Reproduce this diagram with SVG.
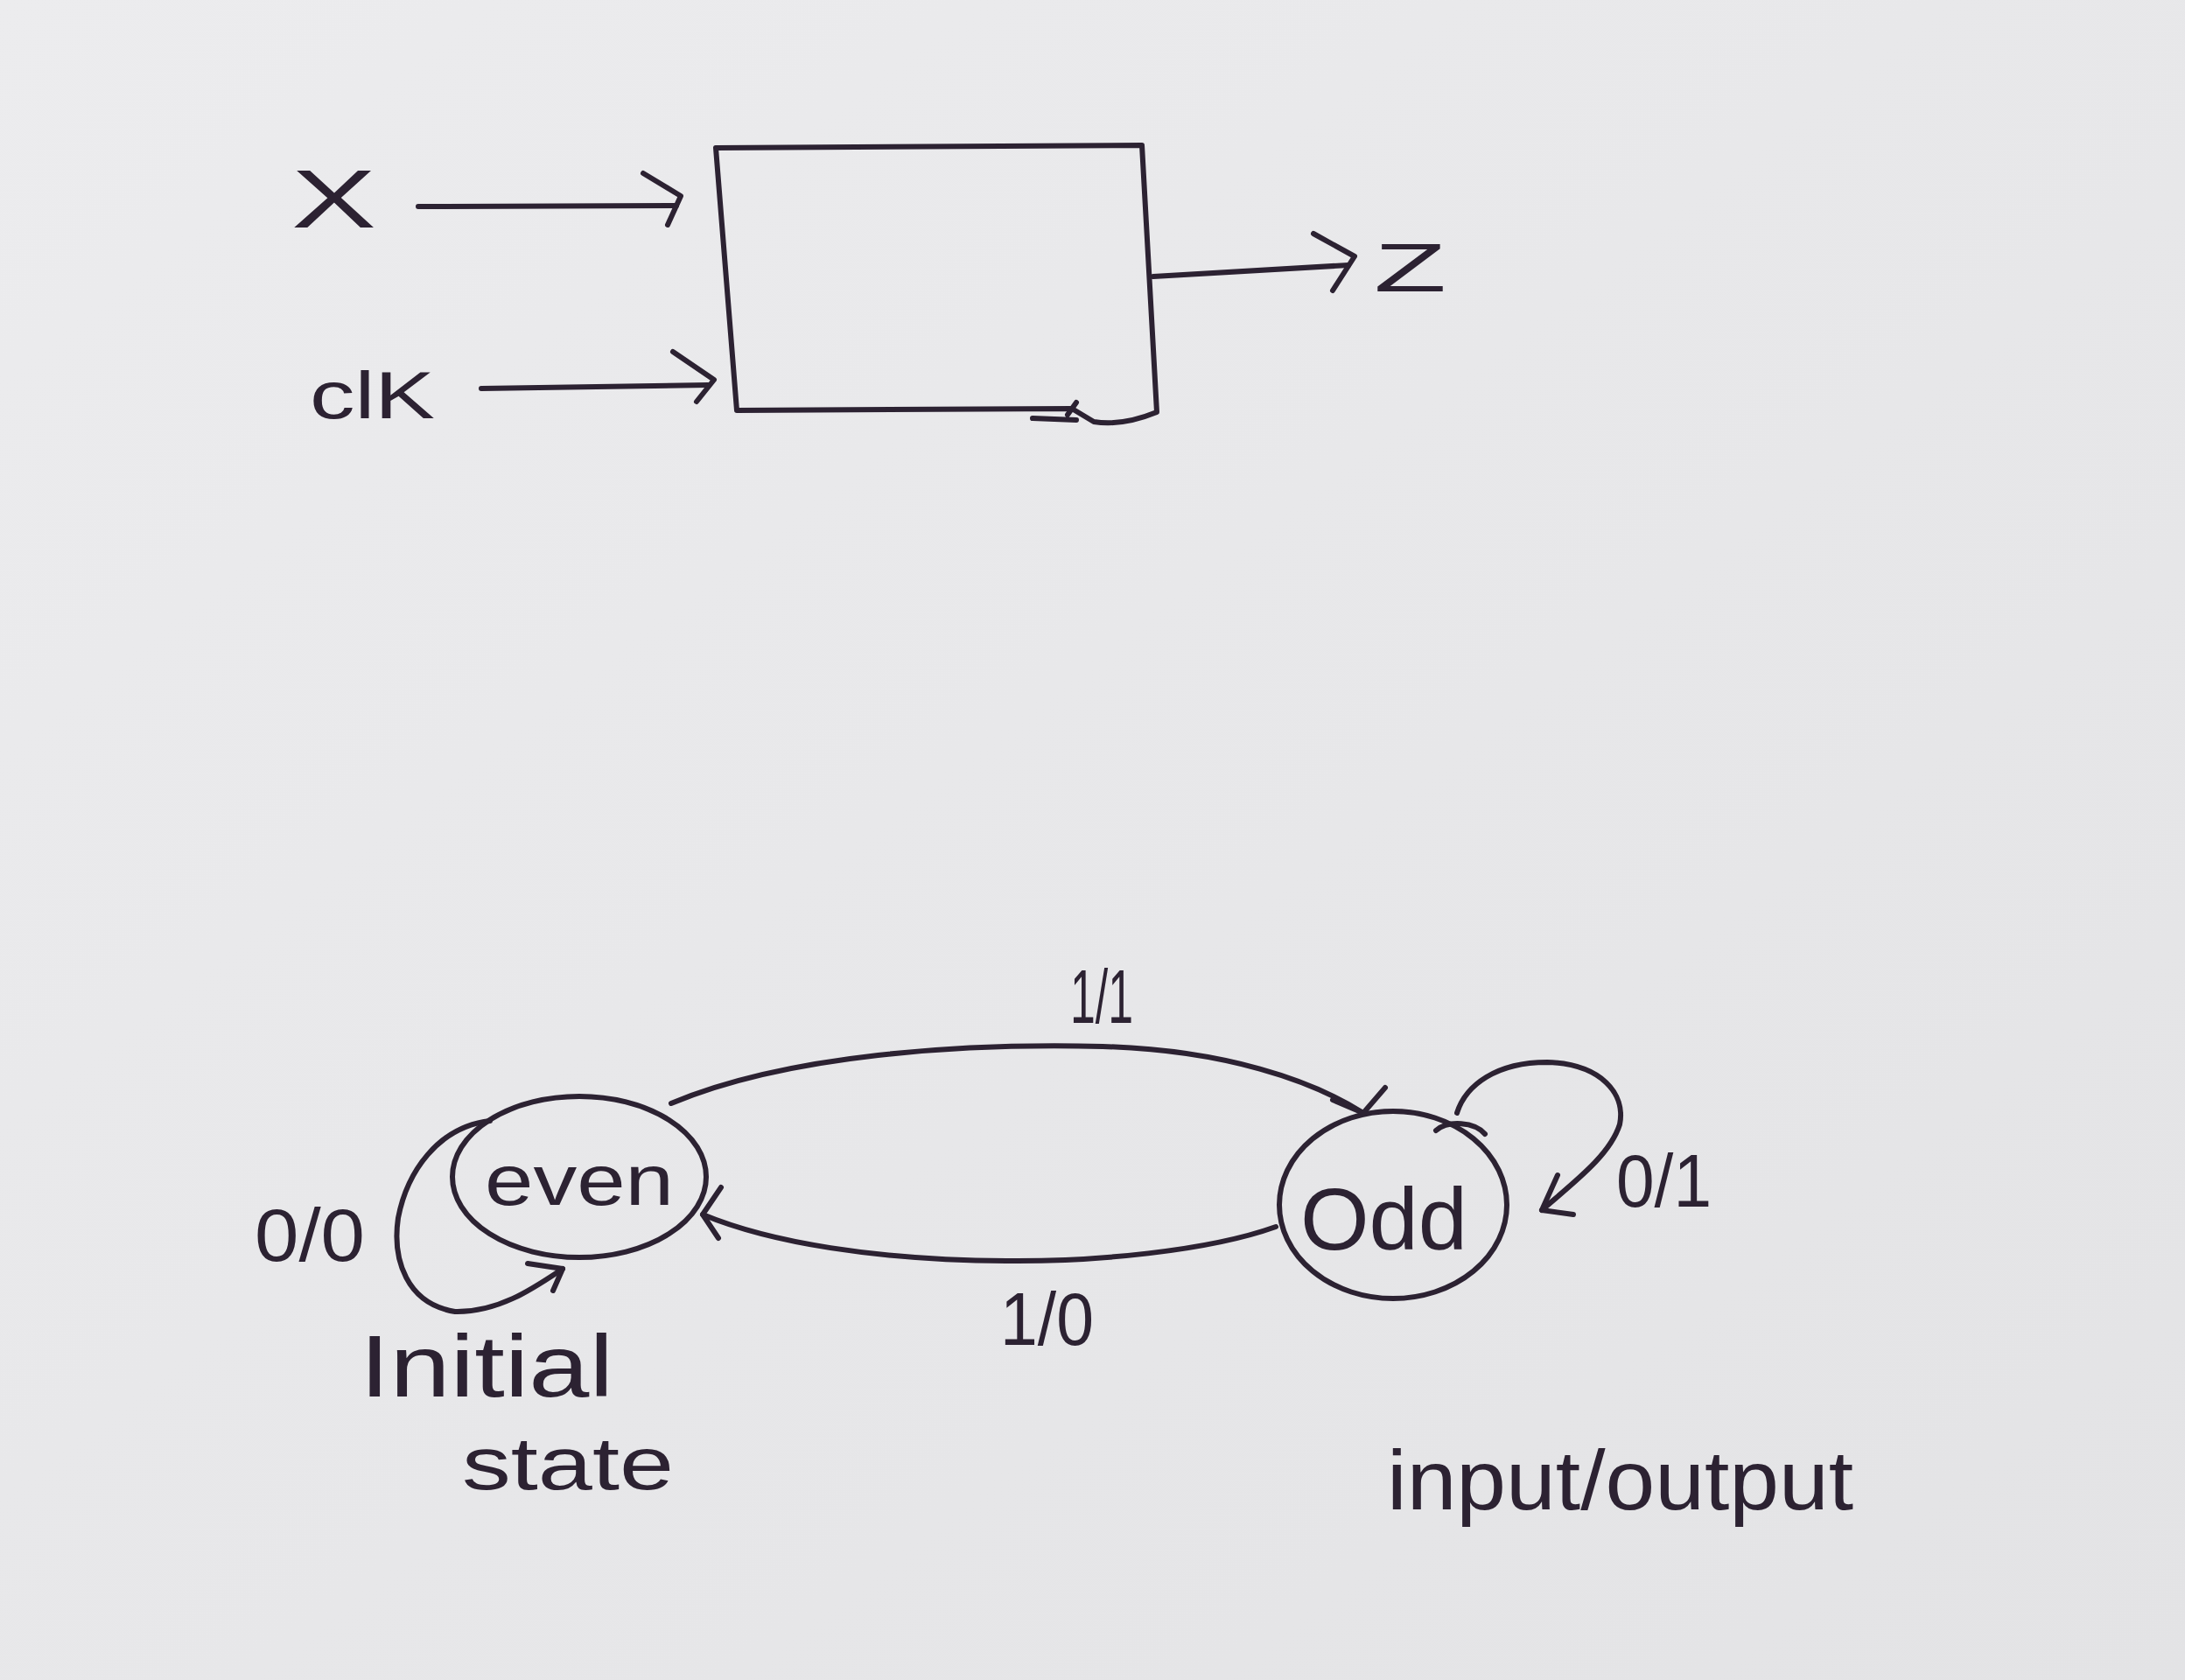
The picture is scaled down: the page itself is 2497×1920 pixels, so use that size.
<svg xmlns="http://www.w3.org/2000/svg" width="2497" height="1920" viewBox="0 0 2497 1920">
<defs>
<linearGradient id="bg" x1="0" y1="0" x2="1" y2="1">
<stop offset="0" stop-color="#ececee"/>
<stop offset="1" stop-color="#e3e3e5"/>
</linearGradient>
<style>
.ink{fill:none;stroke:#2c2232;stroke-width:6;stroke-linecap:round;stroke-linejoin:round}
.t{fill:#2c2232;font-family:"Liberation Sans","DejaVu Sans",sans-serif}
</style>
</defs>
<rect width="2497" height="1920" fill="url(#bg)"/>

<g id="block">
<path class="ink" d="M818,169 L1305,166 L1322,471 C1300,480 1275,486 1250,482 L1225,467 L842,469 Z"/>
<path class="ink" d="M1230,460 L1220,474 M1180,478 L1230,480"/>
</g>
<g id="label-x"><text class="t" x="333" y="260" font-size="95" textLength="97" lengthAdjust="spacingAndGlyphs">X</text></g>
<g id="label-clk"><text class="t" x="354" y="478" font-size="76" textLength="143" lengthAdjust="spacingAndGlyphs">clK</text></g>
<g id="label-z"><text class="t" x="1570" y="333" font-size="78" textLength="83" lengthAdjust="spacingAndGlyphs">Z</text></g>

<g id="even">
<ellipse class="ink" cx="662" cy="1345" rx="145" ry="92"/>
<text class="t" x="554" y="1377" font-size="82" textLength="216" lengthAdjust="spacingAndGlyphs">even</text>
</g>
<g id="odd">
<ellipse class="ink" cx="1592" cy="1377" rx="130" ry="107"/>
<path class="ink" d="M1641,1292 C1655,1280 1685,1282 1697,1296"/>
<text class="t" x="1486" y="1428" font-size="100" textLength="191" lengthAdjust="spacingAndGlyphs">Odd</text>
</g>

<g id="connectors">
<path class="ink" d="M478,236 L773,235"/>
<path class="ink" d="M735,198 L778,224 L763,257"/>
<path class="ink" d="M550,444 L809,440"/>
<path class="ink" d="M769,402 L816,434 L796,459"/>
<path class="ink" d="M1318,316 L1541,303"/>
<path class="ink" d="M1501,267 L1548,293 L1523,332"/>

<path class="ink" d="M767,1261 C900,1205 1100,1192 1260,1196 C1400,1200 1500,1235 1558,1272"/>
<path class="ink" d="M1523,1257 L1558,1272 L1583,1243"/>

<path class="ink" d="M1458,1402 C1380,1430 1250,1442 1150,1441 C1000,1440 880,1420 803,1388"/>
<path class="ink" d="M824,1357 L803,1388 L821,1415"/>

<path class="ink" d="M560,1281 C500,1288 465,1340 455,1392 C448,1440 465,1490 520,1499 C570,1500 610,1472 643,1450"/>
<path class="ink" d="M603,1444 L643,1450 L632,1475"/>

<path class="ink" d="M1665,1272 C1675,1240 1710,1214 1768,1214 C1830,1216 1858,1250 1851,1285 C1840,1320 1800,1350 1762,1383"/>
<path class="ink" d="M1780,1343 L1762,1383 L1798,1388"/>
</g>

<g id="labels">
<text class="t" x="1223" y="1169" font-size="88" textLength="72" lengthAdjust="spacingAndGlyphs">1/1</text>
<text class="t" x="1143" y="1537" font-size="86" textLength="107" lengthAdjust="spacingAndGlyphs">1/0</text>
<text class="t" x="291" y="1441" font-size="86" textLength="126" lengthAdjust="spacingAndGlyphs">0/0</text>
<text class="t" x="1847" y="1379" font-size="86" textLength="109" lengthAdjust="spacingAndGlyphs">0/1</text>
<text class="t" x="411" y="1596" font-size="100" textLength="290" lengthAdjust="spacingAndGlyphs">Initial</text>
<text class="t" x="528" y="1702" font-size="86" textLength="242" lengthAdjust="spacingAndGlyphs">state</text>
<text class="t" x="1585" y="1725" font-size="96" textLength="533" lengthAdjust="spacingAndGlyphs">input/output</text>
</g>
</svg>
